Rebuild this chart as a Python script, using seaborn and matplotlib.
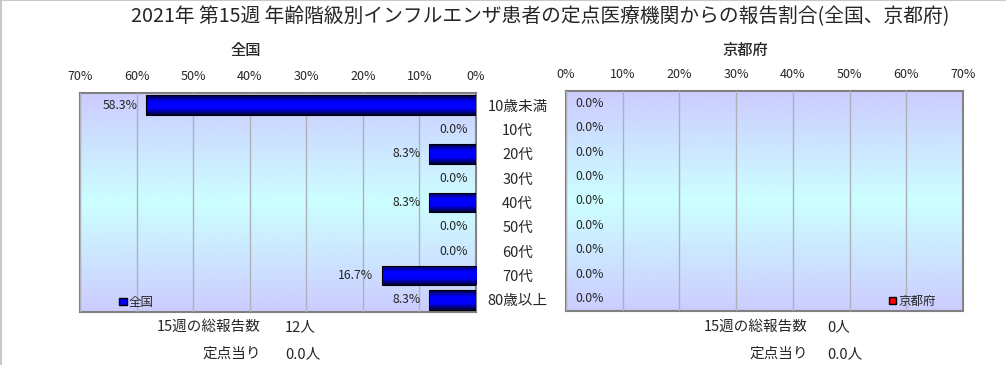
import numpy as np
import pandas as pd
import matplotlib
matplotlib.use("Agg")
import matplotlib.pyplot as plt
from matplotlib.colors import LinearSegmentedColormap
from matplotlib.patches import Patch
import seaborn as sns

sns.set_theme(style="white")
plt.rcParams['font.family'] = ['Noto Sans CJK JP', 'DejaVu Sans']

# data
age_groups = ["10歳未満", "10代", "20代", "30代", "40代", "50代", "60代", "70代", "80歳以上"]
national = [58.3, 0.0, 8.3, 0.0, 8.3, 0.0, 0.0, 16.7, 8.3]
kyoto = [0.0, 0.0, 0.0, 0.0, 0.0, 0.0, 0.0, 0.0, 0.0]
xticks = [0, 10, 20, 30, 40, 50, 60, 70]

title = "2021年 第15週 年齢階級別インフルエンザ患者の定点医療機関からの報告割合(全国、京都府)"
week_label = "15週の総報告数"
per_label = "定点当り"
national_total = "12人"
national_per = "0.0人"
kyoto_total = "0人"
kyoto_per = "0.0人"

df = pd.DataFrame({"age": age_groups, "全国": national, "京都府": kyoto})

bg_cmap = LinearSegmentedColormap.from_list("bg", ["#CCCCFF", "#CCFFFF", "#CCCCFF"])
blue_cmap = LinearSegmentedColormap.from_list("bar", ["#000033", "#0000FF", "#0000FF", "#000033"])
red_cmap = LinearSegmentedColormap.from_list("bar", ["#400000", "#FF0000", "#FF0000", "#400000"])

fig = plt.figure(figsize=(10.06, 3.65), dpi=100)
fig.patch.set_facecolor("white")
fig.add_artist(plt.Line2D([0, 1], [0.999, 0.999], color="#C8C8C8", lw=1.5))
fig.add_artist(plt.Line2D([0.001, 0.001], [0, 1], color="#C8C8C8", lw=1.5))

ax1 = fig.add_axes([80 / 1006, 53 / 365, 396 / 1006, 219 / 365])
ax2 = fig.add_axes([566 / 1006, 54 / 365, 397 / 1006, 220 / 365])


def style_axes(ax, col, cmap, leg_color, inverted):
    sns.barplot(data=df, x=col, y="age", orient="h", ax=ax, width=0.8,
                color=leg_color, edgecolor="black", linewidth=0.8, zorder=3)
    n = len(age_groups)
    # background gradient
    grad = np.linspace(0, 1, 256).reshape(-1, 1)
    ax.imshow(grad, cmap=bg_cmap, aspect="auto", extent=[0, 70, n - 0.5, -0.5],
              zorder=0, interpolation="bilinear")
    ax.set_xlim((70, 0) if inverted else (0, 70))
    ax.set_ylim(n - 0.5, -0.5)
    # bar gradient
    for p in ax.patches:
        if p.get_width() <= 0:
            p.set_visible(False)
            continue
        x0, y0 = p.get_x(), p.get_y()
        w, h = p.get_width(), p.get_height()
        im = ax.imshow(grad, cmap=cmap, aspect="auto", extent=[x0, x0 + w, y0 + h, y0],
                       zorder=3.5, interpolation="bilinear")
        im.set_clip_path(p)
        p.set_facecolor("none")
        p.set_zorder(4)
    ax.set_xticks(xticks)
    ax.set_xticklabels([f"{t}%" for t in xticks], fontsize=9)
    ax.xaxis.tick_top()
    ax.tick_params(axis="x", length=0, pad=7)
    ax.grid(axis="x", color="#B0B0B8", lw=1, zorder=1)
    ax.set_axisbelow(False)
    for s in ax.spines.values():
        s.set_color("#808080")
        s.set_linewidth(1.5)
    ax.set_xlabel("")
    ax.set_ylabel("")
    off, ha = ((-6, "right") if inverted else (7, "left"))
    for i, v in enumerate(df[col]):
        ax.annotate(f"{v:.1f}%", (v, i), xytext=(off, 0), textcoords="offset points",
                    ha=ha, va="center", fontsize=8.8, zorder=5)


style_axes(ax1, "全国", blue_cmap, "#0000CC", True)
style_axes(ax2, "京都府", red_cmap, "#CC0000", False)

ax1.yaxis.tick_right()
ax1.tick_params(axis="y", length=0, pad=30)
for lab in ax1.get_yticklabels():
    lab.set_ha("center")
    lab.set_fontsize(10.5)
ax2.set_yticks([])

ax1.legend(handles=[Patch(facecolor="#0000FF", edgecolor="black", label="全国")],
           loc="lower left", bbox_to_anchor=(0.08, -0.02), frameon=False, fontsize=9,
           handlelength=0.6, handleheight=0.6, handletextpad=0.15, borderaxespad=0.2)
ax2.legend(handles=[Patch(facecolor="#FF0000", edgecolor="black", label="京都府")],
           loc="lower right", bbox_to_anchor=(0.95, -0.02), frameon=False, fontsize=9,
           handlelength=0.6, handleheight=0.6, handletextpad=0.15, borderaxespad=0.2)

fig.text(540 / 1006, 1 - 17 / 365, title, ha="center", va="center", fontsize=14.2)
fig.text(246 / 1006, 1 - 50 / 365, "全国", ha="center", va="center", fontsize=11, fontweight="medium")
fig.text(745 / 1006, 1 - 50 / 365, "京都府", ha="center", va="center", fontsize=11, fontweight="medium")

for xr, xv, tot, per in [(261, 285, national_total, national_per), (808, 827, kyoto_total, kyoto_per)]:
    fig.text(xr / 1006, 1 - 327 / 365, week_label, ha="right", va="center", fontsize=10.5)
    fig.text(xv / 1006, 1 - 327 / 365, tot, ha="left", va="center", fontsize=10.5)
    fig.text(xr / 1006, 1 - 354 / 365, per_label, ha="right", va="center", fontsize=10.5)
    fig.text(xv / 1006, 1 - 354 / 365, per, ha="left", va="center", fontsize=10.5)

fig.savefig("out.png", dpi=100)
